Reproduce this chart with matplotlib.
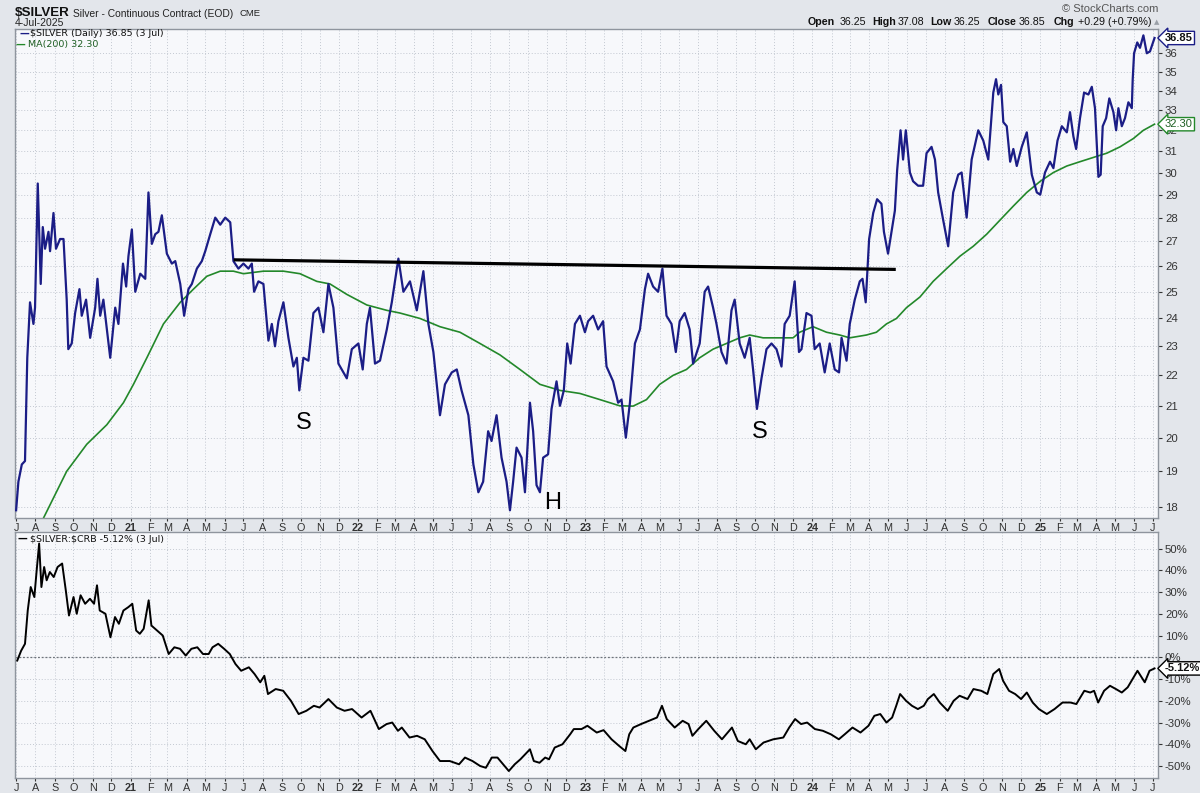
import matplotlib
matplotlib.use("Agg")
import matplotlib.pyplot as plt
import matplotlib.ticker as mticker
import pandas as pd

# $SILVER daily close (time as decimal year)
silver_t = [
    2020.497, 2020.507, 2020.522, 2020.536, 2020.546, 2020.558, 2020.573, 2020.580, 2020.592, 2020.605,
    2020.614, 2020.624, 2020.639, 2020.646, 2020.661, 2020.672, 2020.690, 2020.705, 2020.719, 2020.726,
    2020.741, 2020.756, 2020.775, 2020.785, 2020.804, 2020.822, 2020.844, 2020.854, 2020.866, 2020.880,
    2020.910, 2020.932, 2020.946, 2020.966, 2020.980, 2020.990,
    2021.005, 2021.020, 2021.042, 2021.064, 2021.078, 2021.093, 2021.108, 2021.122, 2021.137, 2021.159,
    2021.181, 2021.196, 2021.218, 2021.235, 2021.254, 2021.269, 2021.291, 2021.313, 2021.328, 2021.350,
    2021.372, 2021.394, 2021.416, 2021.438, 2021.452, 2021.474, 2021.496, 2021.518, 2021.533, 2021.543,
    2021.562, 2021.584, 2021.606, 2021.621, 2021.635, 2021.650, 2021.672, 2021.694, 2021.716, 2021.731,
    2021.742, 2021.760, 2021.782, 2021.804, 2021.826, 2021.848, 2021.870, 2021.892, 2021.914, 2021.936,
    2021.951, 2021.973,
    2022.002, 2022.021, 2022.039, 2022.053, 2022.075, 2022.097, 2022.127, 2022.149, 2022.178, 2022.200,
    2022.229, 2022.259, 2022.288, 2022.310, 2022.332, 2022.361, 2022.383, 2022.413, 2022.435, 2022.456,
    2022.486, 2022.508, 2022.530, 2022.551, 2022.573, 2022.588, 2022.610, 2022.632, 2022.654, 2022.669,
    2022.683, 2022.698, 2022.720, 2022.735, 2022.757, 2022.771, 2022.786, 2022.801, 2022.815, 2022.837,
    2022.852, 2022.874, 2022.889, 2022.906, 2022.921, 2022.936, 2022.955, 2022.977, 2022.999,
    2023.013, 2023.035, 2023.057, 2023.079, 2023.094, 2023.123, 2023.145, 2023.160, 2023.179, 2023.197,
    2023.219, 2023.241, 2023.263, 2023.277, 2023.299, 2023.321, 2023.340, 2023.358, 2023.380, 2023.399,
    2023.416, 2023.438, 2023.460, 2023.475, 2023.504, 2023.526, 2023.541, 2023.563, 2023.578, 2023.600,
    2023.622, 2023.644, 2023.658, 2023.680, 2023.702, 2023.724, 2023.739, 2023.756, 2023.776, 2023.798,
    2023.820, 2023.842, 2023.864, 2023.878, 2023.900, 2023.922, 2023.941, 2023.952, 2023.974, 2023.996,
    2024.010, 2024.032, 2024.054, 2024.076, 2024.098, 2024.117, 2024.128, 2024.150, 2024.164, 2024.186,
    2024.208, 2024.220, 2024.234, 2024.249, 2024.267, 2024.284, 2024.303, 2024.314, 2024.332, 2024.347,
    2024.362, 2024.372, 2024.387, 2024.398, 2024.410, 2024.428, 2024.442, 2024.464, 2024.486, 2024.501,
    2024.523, 2024.538, 2024.552, 2024.574, 2024.596, 2024.618, 2024.640, 2024.655, 2024.677, 2024.699,
    2024.728, 2024.750, 2024.772, 2024.794, 2024.806, 2024.816, 2024.828, 2024.838, 2024.853, 2024.868,
    2024.882, 2024.897, 2024.919, 2024.941, 2024.963, 2024.985,
    2025.000, 2025.021, 2025.043, 2025.058, 2025.076, 2025.095, 2025.117, 2025.131, 2025.146, 2025.158,
    2025.175, 2025.193, 2025.212, 2025.227, 2025.241, 2025.256, 2025.266, 2025.275, 2025.290, 2025.304,
    2025.322, 2025.334, 2025.344, 2025.359, 2025.373, 2025.388, 2025.403, 2025.407, 2025.413, 2025.427,
    2025.439, 2025.454, 2025.469, 2025.483, 2025.503,
]
silver_v = [
    17.9, 18.7, 19.2, 19.3, 22.6, 24.6, 23.8, 24.4, 29.5, 25.3,
    27.6, 26.7, 27.4, 26.6, 28.2, 26.7, 27.1, 27.1, 24.7, 22.9,
    23.1, 24.2, 25.1, 24.1, 24.7, 23.3, 24.4, 25.5, 24.1, 24.7,
    22.6, 24.4, 23.8, 26.1, 25.2, 26.4,
    27.5, 25.0, 25.7, 25.5, 29.1, 26.9, 27.3, 27.4, 28.1, 26.5,
    26.1, 26.2, 25.3, 24.1, 25.1, 25.3, 25.9, 26.2, 26.6, 27.3,
    28.0, 27.7, 28.0, 27.8, 26.2, 25.9, 26.1, 25.9, 26.1, 25.0,
    25.4, 25.3, 23.2, 23.8, 23.0, 23.9, 24.6, 23.3, 22.3, 22.6,
    21.5, 22.6, 22.5, 24.2, 24.4, 23.5, 25.3, 24.4, 22.4, 22.1,
    21.9, 22.9,
    23.1, 22.2, 23.8, 24.4, 22.4, 22.5, 23.6, 24.6, 26.3, 25.0,
    25.4, 24.3, 25.8, 23.8, 22.8, 20.7, 21.7, 22.1, 22.2, 21.5,
    20.7, 19.2, 18.4, 18.7, 20.2, 19.9, 20.7, 19.4, 18.7, 17.9,
    18.7, 19.7, 19.4, 18.4, 21.1, 20.2, 18.6, 18.4, 19.4, 19.5,
    20.9, 21.8, 21.0, 21.5, 23.1, 22.4, 23.8, 24.1, 23.5,
    23.9, 24.1, 23.6, 23.9, 22.3, 21.8, 21.1, 21.2, 20.0, 21.1,
    23.1, 23.6, 25.1, 25.7, 25.2, 25.0, 25.9, 24.1, 23.8, 22.8,
    23.9, 24.2, 23.6, 22.4, 23.1, 25.0, 25.2, 24.4, 23.8, 22.8,
    22.4, 24.3, 24.7, 23.1, 22.6, 23.3, 22.2, 20.9, 21.9, 22.9,
    23.1, 22.9, 22.3, 23.8, 24.1, 25.4, 22.8, 22.9, 24.2, 24.1,
    22.9, 23.1, 22.1, 23.1, 22.2, 22.1, 23.3, 22.5, 23.8, 24.7,
    25.4, 25.5, 24.6, 27.1, 28.2, 28.8, 28.6, 27.4, 26.5, 27.4,
    28.3, 30.1, 32.0, 30.6, 32.0, 30.0, 29.6, 29.4, 29.4, 30.9,
    31.2, 30.6, 29.1, 27.9, 26.8, 29.1, 29.9, 30.0, 28.0, 30.6,
    32.0, 31.5, 30.6, 33.9, 34.6, 33.8, 34.3, 32.4, 32.2, 30.5,
    31.1, 30.3, 31.2, 31.9, 29.9, 29.1,
    29.0, 30.0, 30.5, 30.2, 31.5, 32.2, 31.9, 32.9, 31.7, 31.1,
    32.6, 33.9, 33.8, 34.2, 33.1, 29.8, 29.9, 32.2, 32.6, 33.6,
    32.9, 32.0, 33.1, 32.2, 32.6, 33.4, 33.1, 34.6, 36.0, 36.6,
    36.3, 37.0, 36.0, 36.1, 36.85,
]

# MA(200)
ma_t = [
    2020.610, 2020.719, 2020.807, 2020.895, 2020.968, 2021.012, 2021.071, 2021.144, 2021.218, 2021.276,
    2021.335, 2021.394, 2021.452, 2021.496, 2021.584, 2021.672, 2021.745, 2021.819, 2021.877, 2021.951,
    2022.039, 2022.127, 2022.185, 2022.273, 2022.361, 2022.449, 2022.537, 2022.625, 2022.713, 2022.801,
    2022.889, 2022.977, 2023.065, 2023.152, 2023.211, 2023.270, 2023.328, 2023.387, 2023.446, 2023.504,
    2023.563, 2023.622, 2023.680, 2023.724, 2023.783, 2023.856, 2023.915, 2023.944, 2024.003, 2024.062,
    2024.120, 2024.164, 2024.237, 2024.281, 2024.325, 2024.369, 2024.413, 2024.472, 2024.530, 2024.589,
    2024.648, 2024.706, 2024.765, 2024.824, 2024.882, 2024.941, 2025.000, 2025.058, 2025.117, 2025.175,
    2025.234, 2025.293, 2025.351, 2025.410, 2025.454, 2025.503,
]
ma_v = [
    17.6, 19.0, 19.8, 20.4, 21.1, 21.7, 22.6, 23.8, 24.6, 25.1,
    25.6, 25.8, 25.8, 25.7, 25.8, 25.8, 25.7, 25.4, 25.3, 24.9,
    24.5, 24.3, 24.2, 24.0, 23.7, 23.5, 23.1, 22.7, 22.2, 21.7,
    21.5, 21.4, 21.2, 21.0, 20.99, 21.2, 21.7, 22.0, 22.2, 22.6,
    22.9, 23.1, 23.3, 23.4, 23.3, 23.3, 23.3, 23.5, 23.7, 23.5,
    23.4, 23.3, 23.4, 23.5, 23.8, 24.0, 24.4, 24.8, 25.4, 25.9,
    26.4, 26.8, 27.3, 27.9, 28.5, 29.1, 29.6, 30.0, 30.3, 30.5,
    30.7, 30.9, 31.2, 31.6, 32.0, 32.3,
]

# $SILVER:$CRB, % change
ratio_t = [
    2020.502, 2020.519, 2020.536, 2020.548, 2020.561, 2020.577, 2020.586, 2020.598, 2020.608, 2020.620,
    2020.631, 2020.645, 2020.662, 2020.679, 2020.699, 2020.715, 2020.729, 2020.749, 2020.763, 2020.780,
    2020.800, 2020.821, 2020.839, 2020.852, 2020.864, 2020.889, 2020.911, 2020.931, 2020.948, 2020.968,
    2020.990, 2021.007, 2021.024, 2021.040, 2021.057, 2021.079, 2021.091, 2021.116, 2021.141, 2021.167,
    2021.192, 2021.217, 2021.242, 2021.267, 2021.293, 2021.318, 2021.343, 2021.360, 2021.385, 2021.411,
    2021.436, 2021.461, 2021.486, 2021.520, 2021.545, 2021.570, 2021.588, 2021.604, 2021.638, 2021.671,
    2021.705, 2021.739, 2021.773, 2021.806, 2021.831, 2021.870, 2021.907, 2021.941, 2021.974, 2022.016,
    2022.055, 2022.092, 2022.126, 2022.151, 2022.176, 2022.193, 2022.227, 2022.260, 2022.294, 2022.328,
    2022.361, 2022.404, 2022.445, 2022.471, 2022.504, 2022.538, 2022.563, 2022.589, 2022.614, 2022.639,
    2022.664, 2022.690, 2022.715, 2022.757, 2022.774, 2022.799, 2022.824, 2022.841, 2022.866, 2022.900,
    2022.934, 2022.950, 2022.984, 2023.010, 2023.051, 2023.081, 2023.116, 2023.150, 2023.177, 2023.194,
    2023.212, 2023.246, 2023.281, 2023.316, 2023.338, 2023.359, 2023.394, 2023.429, 2023.455, 2023.472,
    2023.498, 2023.533, 2023.568, 2023.602, 2023.646, 2023.672, 2023.707, 2023.724, 2023.751, 2023.785,
    2023.828, 2023.872, 2023.898, 2023.924, 2023.950, 2023.977, 2024.011, 2024.046, 2024.081, 2024.116,
    2024.142, 2024.176, 2024.211, 2024.246, 2024.272, 2024.298, 2024.325, 2024.350, 2024.368, 2024.385,
    2024.411, 2024.437, 2024.463, 2024.489, 2024.507, 2024.533, 2024.559, 2024.594, 2024.620, 2024.646,
    2024.681, 2024.707, 2024.741, 2024.768, 2024.794, 2024.820, 2024.837, 2024.863, 2024.890, 2024.916,
    2024.941, 2024.967, 2024.994, 2025.029, 2025.063, 2025.098, 2025.133, 2025.159, 2025.194, 2025.220,
    2025.237, 2025.255, 2025.281, 2025.307, 2025.333, 2025.359, 2025.385, 2025.411, 2025.428, 2025.446,
    2025.460, 2025.481, 2025.503,
]
ratio_v = [
    -1.5, 3, 6.2, 21.5, 32.3, 27.7, 38.5, 52.3, 32.3, 41.5,
    35.4, 39.2, 36.9, 41.5, 43.1, 30.8, 19.2, 27.7, 20, 28.5,
    24.6, 26.9, 24.6, 33.1, 21.5, 20, 9.2, 18.5, 15.4, 21.5,
    23.1, 24.6, 12.3, 10.8, 13.1, 26.2, 14.6, 12.3, 10, 1.5,
    4.6, 3.9, 0.8, 3.9, 4.6, 1.5, 1.5, 4.6, 6.2, 3.9,
    1.5, -3.1, -6.2, -4.6, -7.7, -11.5, -8.5, -16.9, -14.6, -15.4,
    -20, -26.1, -24.6, -22.3, -23.1, -19.2, -23.1, -24.6, -23.8, -27.7,
    -24.6, -33, -30.7, -30, -33.8, -32.3, -36.9, -36.1, -37.7, -43.1,
    -47.7, -47.7, -49.2, -46.1, -47.7, -50, -50.8, -46.1, -46.1, -49.2,
    -52.3, -49.2, -46.9, -42.3, -47.7, -48.5, -46.1, -46.9, -41.5, -40,
    -35.4, -33, -33, -31.5, -34.6, -33.5, -37.7, -40.8, -43.1, -35.4,
    -32.3, -30.7, -29.2, -27.7, -22.3, -28.4, -32.3, -29.2, -30.7, -36.1,
    -33, -29.2, -33.8, -37.7, -32.3, -38.5, -40, -37.7, -42.3, -39.2,
    -37.7, -36.9, -32.3, -28.4, -30.7, -30, -33, -33.8, -35.4, -37.7,
    -35.4, -32.3, -34.6, -31.5, -26.9, -26.1, -30, -27.7, -22.3, -16.9,
    -20, -22.3, -23.8, -22.3, -19.2, -16.9, -20.8, -24.6, -20, -17.7,
    -19.2, -14.6, -15.4, -16.9, -7.7, -5.4, -10.8, -15.4, -16.9, -19.2,
    -16.2, -20.8, -23.8, -26.1, -23.8, -20.8, -20.8, -21.5, -15.4, -16.2,
    -15.4, -20.8, -15.4, -13.1, -14.6, -16.2, -13.8, -9.2, -6.2, -9.2,
    -11.5, -6.2, -5.12,
]

# drawn neckline and pattern labels
neck_t = [2021.460, 2024.359]
neck_v = [26.25, 25.87]
marks = ['S', 'H', 'S']
marks_t = [2021.763, 2022.858, 2023.768]
marks_v = [20.45, 18.1, 20.17]

price_ticks = list(range(18, 37))
pct_ticks = list(range(-50, 51, 10))


def to_dates(ts):
    out = []
    for t in ts:
        y = int(t)
        start = pd.Timestamp(year=y, month=1, day=1)
        n = (pd.Timestamp(year=y + 1, month=1, day=1) - start).days
        out.append(start + pd.Timedelta(days=(t - y) * n))
    return pd.DatetimeIndex(out)


W, H = 1200, 793


def px(x, y):
    return x / W, 1 - y / H


NAVY = '#1b1d86'
GREEN = '#23882a'
GRID = '#c3c8d1'
SPINE = '#8f959e'
FIG_BG = '#e3e6eb'
AX_BG = '#f7f8fb'
SANS = 'Liberation Sans'

fig = plt.figure(figsize=(W / 100, H / 100), dpi=100, facecolor=FIG_BG)
ax1 = fig.add_axes([15 / W, 1 - 518 / H, 1143 / W, 489 / H], facecolor=AX_BG)
ax2 = fig.add_axes([15 / W, 1 - 778 / H, 1143 / W, 246 / H], facecolor=AX_BG)

months = pd.date_range('2020-07-01', '2025-07-01', freq='MS')
month_lbls = [f'{d.year % 100:02d}' if d.month == 1 else d.strftime('%b')[0] for d in months]
xlim = to_dates([2020.4921, 2025.5183])

for ax in (ax1, ax2):
    ax.set_xlim(xlim[0], xlim[1])
    ax.set_xticks(months)
    ax.set_xticklabels(month_lbls)
    for lbl, d in zip(ax.get_xticklabels(), months):
        if d.month == 1:
            lbl.set_fontweight('bold')
            lbl.set_fontsize(8.5)
    ax.grid(True, color=GRID, linestyle=(0, (1, 2)), linewidth=0.7)
    ax.set_axisbelow(True)
    for s in ax.spines.values():
        s.set_color(SPINE)
        s.set_linewidth(1)
    ax.tick_params(axis='x', length=2, pad=1.5, labelsize=7.8, colors='#333333')
    ax.tick_params(axis='y', length=3, pad=2, labelsize=8.2, colors='#333333',
                   left=False, labelleft=False, right=True, labelright=True)

# upper panel
ax1.plot(to_dates(silver_t), silver_v, color=NAVY, lw=1.6, zorder=3)
ax1.plot(to_dates(ma_t), ma_v, color=GREEN, lw=1.2, zorder=2)
ax1.plot(to_dates(neck_t), neck_v, color='black', lw=2.3, zorder=4)
for m, t, v in zip(marks, to_dates(marks_t), marks_v):
    ax1.text(t, v, m, fontsize=17, ha='center', va='center', family=SANS, color='black')

ax1.set_yscale('log')
ax1.set_ylim(17.69, 37.36)
ax1.set_yticks(price_ticks)
ax1.yaxis.set_major_formatter(mticker.FuncFormatter(lambda v, p: f'{v:.0f}'))
ax1.yaxis.set_minor_locator(mticker.NullLocator())

ax1.annotate(f'{silver_v[-1]:.2f}', xy=(1.0, silver_v[-1]), xycoords=('axes fraction', 'data'),
             xytext=(5, 0), textcoords='offset points', ha='left', va='center',
             fontsize=8, fontweight='bold', family=SANS, color='#111111', zorder=10,
             bbox=dict(boxstyle='larrow,pad=0.15', fc='white', ec=NAVY, lw=1), annotation_clip=False)
ax1.annotate(f'{ma_v[-1]:.2f}', xy=(1.0, ma_v[-1]), xycoords=('axes fraction', 'data'),
             xytext=(5, 0), textcoords='offset points', ha='left', va='center',
             fontsize=8, family=SANS, color='#1d5e22', zorder=10,
             bbox=dict(boxstyle='larrow,pad=0.15', fc='white', ec=GREEN, lw=1), annotation_clip=False)

# lower panel
ax2.plot(to_dates(ratio_t), ratio_v, color='black', lw=1.4, zorder=3)
ax2.axhline(0, color='#6f747b', lw=0.9, linestyle=(0, (1.5, 1.5)), zorder=2)
ax2.set_ylim(-55.5, 57.6)
ax2.set_yticks(pct_ticks)
ax2.yaxis.set_major_formatter(mticker.FuncFormatter(lambda v, p: f'{v:.0f}%'))
ax2.annotate(f'{ratio_v[-1]:.2f}%', xy=(1.0, ratio_v[-1]), xycoords=('axes fraction', 'data'),
             xytext=(5, 0), textcoords='offset points', ha='left', va='center',
             fontsize=8, fontweight='bold', family=SANS, color='#111111', zorder=10,
             bbox=dict(boxstyle='larrow,pad=0.15', fc='white', ec='black', lw=1), annotation_clip=False)

for ax in (ax1, ax2):
    for lbl in ax.get_yticklabels() + ax.get_xticklabels():
        lbl.set_fontfamily(SANS)

# header
fig.text(*px(15, 13), r'\$SILVER', fontsize=9.6, fontweight='bold', family=SANS, va='center', color='#111111')
fig.text(*px(73, 14), 'Silver - Continuous Contract (EOD)', fontsize=7.4, family=SANS, va='center', color='#222222')
fig.text(*px(239, 14), 'CME', fontsize=6.8, family=SANS, va='center', color='#222222')
fig.text(*px(15, 23), '4-Jul-2025', fontsize=7.5, family=SANS, va='center', color='#222222')
fig.text(*px(1158, 9), '\u00a9 StockCharts.com', fontsize=8, family=SANS, va='center', ha='right', color='#555555')

ohlc = [('Open', True, 808), ('36.25', False, 840), ('High', True, 872), ('37.08', False, 898),
        ('Low', True, 930), ('36.25', False, 954), ('Close', True, 988), ('36.85', False, 1019),
        ('Chg', True, 1054), ('+0.29 (+0.79%)', False, 1078)]
for txt, bold, x in ohlc:
    fig.text(*px(x, 22), txt, fontsize=7.7, fontweight='bold' if bold else 'normal',
             family=SANS, va='center', color='#111111')
fig.text(*px(1154, 22), '\u25b2', fontsize=5, family='DejaVu Sans', va='center', color='#9aa0a8')

# in-panel legends
fig.text(*px(19, 34), '\u2014', fontsize=7, fontweight='bold', family='DejaVu Sans', va='center', color=NAVY)
fig.text(*px(30, 34), r'\$SILVER (Daily) 36.85 (3 Jul)', fontsize=6.8, family='DejaVu Sans', va='center', color='#111111')
fig.text(*px(16, 45), '\u2014', fontsize=7, fontweight='bold', family='DejaVu Sans', va='center', color=GREEN)
fig.text(*px(28, 45), 'MA(200) 32.30', fontsize=6.8, family='DejaVu Sans', va='center', color='#1d5e22')
fig.text(*px(18, 539), '\u2014', fontsize=7, fontweight='bold', family='DejaVu Sans', va='center', color='black')
fig.text(*px(30, 539), r'\$SILVER:\$CRB -5.12% (3 Jul)', fontsize=6.8, family='DejaVu Sans', va='center', color='#111111')

fig.savefig('out.png', dpi=100, facecolor=FIG_BG)
